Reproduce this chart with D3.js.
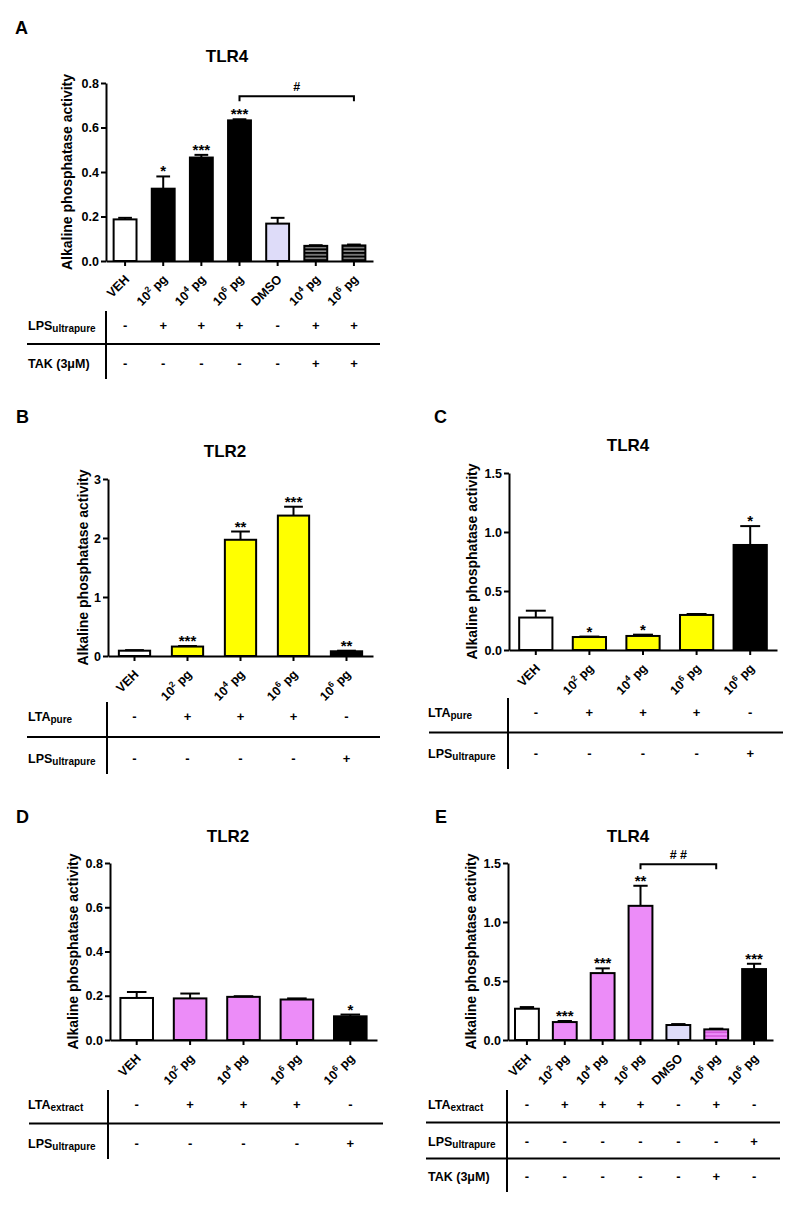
<!DOCTYPE html>
<html><head><meta charset="utf-8">
<script src="https://cdn.jsdelivr.net/npm/d3@7"></script>
<style>
html,body{margin:0;padding:0;background:#fff;}
text{font-family:"Liberation Sans",Arial,Helvetica,sans-serif;font-weight:bold;fill:#000;}
</style></head>
<body>
<script>
// ---------------- DATA ----------------
// Panel A (TLR4, LPS ultrapure +/- TAK)
const catsA = ["VEH","10^2 pg","10^4 pg","10^6 pg","DMSO","10^4 pg","10^6 pg"];
const valsA = [0.187,0.325,0.465,0.632,0.168,0.068,0.070];
const errsA = [0.007,0.055,0.012,0.005,0.026,0.003,0.004];
const sigA  = ["","*","***","***","","",""];
const fillA = ["veh","lps","lps","lps","dmso","takLps","takLps"];
const rowsA = [
  {label:"LPS", sub:"ultrapure", signs:["-","+","+","+","-","+","+"]},
  {label:"TAK (3\u03bcM)", sub:"", signs:["-","-","-","-","-","+","+"]}
];
const bracketA = {from:3, to:6, y:0.74, label:"#"};

// Panel B (TLR2, LTA pure)
const catsB = ["VEH","10^2 pg","10^4 pg","10^6 pg","10^6 pg"];
const valsB = [0.09,0.16,1.97,2.38,0.08];
const errsB = [0.01,0.01,0.14,0.15,0.01];
const sigB  = ["","***","**","***","**"];
const fillB = ["veh","ltaPure","ltaPure","ltaPure","lps"];
const rowsB = [
  {label:"LTA", sub:"pure", signs:["-","+","+","+","-"]},
  {label:"LPS", sub:"ultrapure", signs:["-","-","-","-","+"]}
];

// Panel C (TLR4, LTA pure)
const catsC = ["VEH","10^2 pg","10^4 pg","10^6 pg","10^6 pg"];
const valsC = [0.275,0.110,0.119,0.297,0.890];
const errsC = [0.058,0.004,0.011,0.008,0.160];
const sigC  = ["","*","*","","*"];
const fillC = ["veh","ltaPure","ltaPure","ltaPure","lps"];
const rowsC = [
  {label:"LTA", sub:"pure", signs:["-","+","+","+","-"]},
  {label:"LPS", sub:"ultrapure", signs:["-","-","-","-","+"]}
];

// Panel D (TLR2, LTA extract)
const catsD = ["VEH","10^2 pg","10^4 pg","10^6 pg","10^6 pg"];
const valsD = [0.190,0.188,0.195,0.183,0.107];
const errsD = [0.027,0.022,0.003,0.005,0.008];
const sigD  = ["","","","","*"];
const fillD = ["veh","ltaExt","ltaExt","ltaExt","lps"];
const rowsD = [
  {label:"LTA", sub:"extract", signs:["-","+","+","+","-"]},
  {label:"LPS", sub:"ultrapure", signs:["-","-","-","-","+"]}
];

// Panel E (TLR4, LTA extract +/- TAK)
const catsE = ["VEH","10^2 pg","10^4 pg","10^6 pg","DMSO","10^6 pg","10^6 pg"];
const valsE = [0.265,0.152,0.567,1.137,0.127,0.090,0.601];
const errsE = [0.014,0.009,0.040,0.170,0.008,0.006,0.045];
const sigE  = ["","***","***","**","","","***"];
const fillE = ["veh","ltaExt","ltaExt","ltaExt","dmso","takLta","lps"];
const rowsE = [
  {label:"LTA", sub:"extract", signs:["-","+","+","+","-","+","-"]},
  {label:"LPS", sub:"ultrapure", signs:["-","-","-","-","-","-","+"]},
  {label:"TAK (3\u03bcM)", sub:"", signs:["-","-","-","-","-","+","-"]}
];
const bracketE = {from:3, to:5, y:1.49, label:"# #"};

const yTitle = "Alkaline phosphatase activity";

// ---------------- STYLE / LAYOUT ----------------
const fills = {
  veh:"#ffffff", lps:"#000000", dmso:"#dedcf9",
  ltaPure:"#ffff00", ltaExt:"#ec8cf8",
  takLps:"url(#stripeDark)", takLta:"url(#stripeViolet)"
};

const svg = d3.select("body").append("svg")
  .attr("width",800).attr("height",1212);

const defs = svg.append("defs");
function stripe(id, bg, line){
  const p = defs.append("pattern").attr("id",id).attr("patternUnits","userSpaceOnUse")
    .attr("width",8).attr("height",3.6);
  p.append("rect").attr("width",8).attr("height",3.6).attr("fill",bg);
  p.append("rect").attr("y",2.2).attr("width",8).attr("height",1.1).attr("fill",line);
}
stripe("stripeDark","#000000","#c8c8c8");
stripe("stripeViolet","#ec8cf8","#c83ccc");

const panels = [
  {letter:"A", lx:15, ly:33.5, title:"TLR4", tx:227, ty:62, ax:106, axEnd:373, y0:261, yTop:83,
   max:0.8, ticks:[0,0.2,0.4,0.6,0.8], fmt:".1f", pad:0.40, ylabX:71.5,
   labX:28, vX:106, rowY:[325,363], sep:[27,380],
   cats:catsA, vals:valsA, errs:errsA, sig:sigA, fill:fillA, rows:rowsA, bracket:bracketA},
  {letter:"B", lx:16, ly:423, title:"TLR2", tx:225, ty:457, ax:108, axEnd:373, y0:656, yTop:479,
   max:3, ticks:[0,1,2,3], fmt:"d", pad:0.41, ylabX:87.5,
   labX:28, vX:107, rowY:[716,758], sep:[27,380],
   cats:catsB, vals:valsB, errs:errsB, sig:sigB, fill:fillB, rows:rowsB},
  {letter:"C", lx:434, ly:423, title:"TLR4", tx:628, ty:451, ax:509, axEnd:777, y0:650, yTop:473,
   max:1.5, ticks:[0,0.5,1,1.5], fmt:".1f", pad:0.38, ylabX:476.5,
   labX:428, vX:508, rowY:[712,753], sep:[429,783],
   cats:catsC, vals:valsC, errs:errsC, sig:sigC, fill:fillC, rows:rowsC},
  {letter:"D", lx:16, ly:823, title:"TLR2", tx:228, ty:842, ax:110, axEnd:377, y0:1040, yTop:863,
   max:0.8, ticks:[0,0.2,0.4,0.6,0.8], fmt:".1f", pad:0.39, ylabX:77.5,
   labX:28, vX:108, rowY:[1104,1143], sep:[29,383],
   cats:catsD, vals:valsD, errs:errsD, sig:sigD, fill:fillD, rows:rowsD},
  {letter:"E", lx:435, ly:823, title:"TLR4", tx:628, ty:842, ax:508, axEnd:773, y0:1040, yTop:863,
   max:1.5, ticks:[0,0.5,1,1.5], fmt:".1f", pad:0.37, ylabX:475.5,
   labX:428, vX:507, rowY:[1104,1141,1176], sep:[426,780],
   cats:catsE, vals:valsE, errs:errsE, sig:sigE, fill:fillE, rows:rowsE, bracket:bracketE}
];

function addCatLabel(sel, s){
  const m = s.match(/^(\d+)\^(\d+)(.*)$/);
  if(!m){ sel.text(s); return; }
  sel.append("tspan").text(m[1]);
  sel.append("tspan").attr("font-size","8.5px").attr("dy",-5).text(m[2]);
  sel.append("tspan").attr("dy",5).text(m[3]);
}

panels.forEach(P => {
  const g = svg.append("g");
  const n = P.cats.length;
  const x = d3.scaleBand().domain(d3.range(n)).range([P.ax,P.axEnd])
    .paddingInner(P.pad).paddingOuter(P.pad/2);
  const y = d3.scaleLinear().domain([0,P.max]).range([P.y0,P.yTop]);
  const bw = x.bandwidth();
  const cx = i => x(i) + bw/2;

  // panel letter & title
  g.append("text").attr("x",P.lx).attr("y",P.ly).attr("font-size","18px").text(P.letter);
  g.append("text").attr("x",P.tx).attr("y",P.ty).attr("text-anchor","middle")
    .attr("font-size","17px").text(P.title);

  // bars
  g.selectAll("rect.bar").data(P.vals).enter().append("rect")
    .attr("x",(d,i)=>x(i)).attr("width",bw)
    .attr("y",d=>y(d)).attr("height",d=>P.y0-y(d))
    .attr("fill",(d,i)=>fills[P.fill[i]])
    .attr("stroke","#000").attr("stroke-width",2);

  // error bars (upper only)
  const cap = bw*0.6;
  P.vals.forEach((v,i)=>{
    const e = P.errs[i];
    g.append("line").attr("x1",cx(i)).attr("x2",cx(i)).attr("y1",y(v)).attr("y2",y(v+e))
      .attr("stroke","#000").attr("stroke-width",2);
    g.append("line").attr("x1",cx(i)-cap/2).attr("x2",cx(i)+cap/2).attr("y1",y(v+e)).attr("y2",y(v+e))
      .attr("stroke","#000").attr("stroke-width",2);
    if(P.sig[i]){
      g.append("text").attr("x",cx(i)).attr("y",y(v+e)).attr("text-anchor","middle")
        .attr("font-size","15px").text(P.sig[i]);
    }
  });

  // axes
  const ya = g.append("g").attr("transform",`translate(${P.ax},0)`)
    .call(d3.axisLeft(y).tickValues(P.ticks).tickSize(5).tickSizeOuter(0).tickPadding(2)
      .tickFormat(d3.format(P.fmt)));
  const xa = g.append("g").attr("transform",`translate(0,${P.y0})`)
    .call(d3.axisBottom(x).tickSize(5).tickSizeOuter(0).tickFormat(""));
  [ya,xa].forEach(a=>{
    a.selectAll("path,line").attr("stroke","#000").attr("stroke-width",2);
    a.selectAll("text").attr("font-size","12.5px").attr("font-weight","bold")
      .attr("font-family","'Liberation Sans',Arial,sans-serif").attr("fill","#000");
  });

  // y title
  g.append("text").attr("transform",`translate(${P.ylabX},${(P.y0+P.yTop)/2}) rotate(-90)`)
    .attr("text-anchor","middle").attr("font-size","14px").text(yTitle);

  // category labels
  P.cats.forEach((c,i)=>{
    const t = g.append("text")
      .attr("transform",`translate(${cx(i)+5},${P.y0+19}) rotate(-45)`)
      .attr("text-anchor","end").attr("font-size","12.5px");
    addCatLabel(t,c);
  });

  // significance bracket
  if(P.bracket){
    const b = P.bracket, by = y(b.y);
    g.append("path")
      .attr("d",`M${cx(b.from)},${by+5}V${by}H${cx(b.to)}V${by+5}`)
      .attr("fill","none").attr("stroke","#000").attr("stroke-width",2);
    g.append("text").attr("x",(cx(b.from)+cx(b.to))/2).attr("y",by-5)
      .attr("text-anchor","middle").attr("font-size","12.5px").text(b.label);
  }

  // treatment table
  const last = P.rowY[P.rowY.length-1];
  g.append("line").attr("x1",P.vX).attr("x2",P.vX).attr("y1",P.rowY[0]-14).attr("y2",last+16)
    .attr("stroke","#000").attr("stroke-width",2);
  for(let r=0;r<P.rowY.length-1;r++){
    const sy = (P.rowY[r]+P.rowY[r+1])/2;
    g.append("line").attr("x1",P.sep[0]).attr("x2",P.sep[1]).attr("y1",sy).attr("y2",sy)
      .attr("stroke","#000").attr("stroke-width",2);
  }
  P.rows.forEach((row,r)=>{
    const ry = P.rowY[r];
    const t = g.append("text").attr("x",P.labX).attr("y",ry+4.5).attr("font-size","12.5px");
    t.append("tspan").text(row.label);
    if(row.sub) t.append("tspan").attr("font-size","10px").attr("dy",2.5).text(row.sub);
    row.signs.forEach((s,i)=>{
      g.append("text").attr("x",cx(i)).attr("y",ry+4.5).attr("text-anchor","middle")
        .attr("font-size","13px").text(s);
    });
  });
});
</script>
</body></html>
